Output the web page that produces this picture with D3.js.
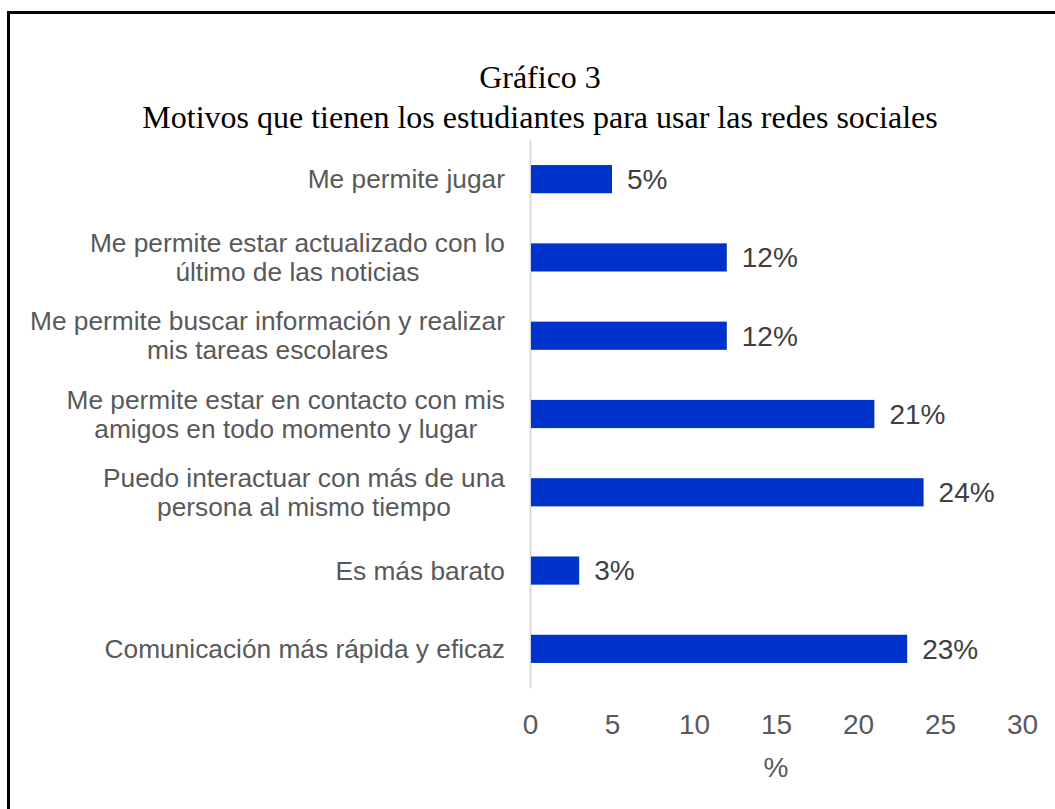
<!DOCTYPE html>
<html><head><meta charset="utf-8">
<script src="https://cdn.jsdelivr.net/npm/d3@7"></script>
<style>body{margin:0;background:#fff}svg{display:block}</style>
</head><body><svg id="c" width="1055" height="809"></svg>
<script>
const titleLines = ["Gráfico 3", "Motivos que tienen los estudiantes para usar las redes sociales"];
const categories = [
  "Me permite jugar",
  "Me permite estar actualizado con lo\núltimo de las noticias",
  "Me permite buscar información y realizar\nmis tareas escolares",
  "Me permite estar en contacto con mis\namigos en todo momento y lugar",
  "Puedo interactuar con más de una\npersona al mismo tiempo",
  "Es más barato",
  "Comunicación más rápida y eficaz"
];
const values = [5, 12, 12, 21, 24, 3, 23];
const valueLabels = ["5%", "12%", "12%", "21%", "24%", "3%", "23%"];
const xTicks = [0, 5, 10, 15, 20, 25, 30];
const xTitle = "%";

const svg = d3.select("#c");
svg.append("rect").attr("width",1055).attr("height",809).attr("fill","#fff");
svg.append("rect").attr("x",8.5).attr("y",12.5).attr("width",1100).attr("height",900)
  .attr("fill","none").attr("stroke","#000").attr("stroke-width",3);

const sans = "'Liberation Sans', Arial, sans-serif";
const serif = "'Liberation Serif', 'Times New Roman', serif";

svg.selectAll("text.title").data(titleLines).join("text")
  .attr("class","title")
  .attr("x",540).attr("y",(d,i)=>77+i*40).attr("dy","0.35em")
  .attr("text-anchor","middle").attr("font-family",serif).attr("font-size",32).attr("fill","#000")
  .text(d=>d);

const x = d3.scaleLinear().domain([0,30]).range([530,1022]);
const y = d3.scaleBand().domain(categories).range([140,688]).paddingInner(0.64).paddingOuter(0.32);

// vertical axis line
const yAxis = d3.axisLeft(y).tickSize(0).tickSizeOuter(0).tickFormat("");
const gy = svg.append("g").attr("transform","translate(530,0)").call(yAxis);
gy.select(".domain").attr("stroke","#d9d9d9").attr("stroke-width",2);

// bars
svg.selectAll("rect.bar").data(values).join("rect")
  .attr("class","bar")
  .attr("x",x(0)+1).attr("y",(d,i)=>y(categories[i]))
  .attr("width",d=>x(d)-x(0)-1).attr("height",y.bandwidth())
  .attr("fill","#0033cc");

// value labels
svg.selectAll("text.val").data(values).join("text")
  .attr("class","val")
  .attr("x",d=>x(d)+15).attr("y",(d,i)=>y(categories[i])+y.bandwidth()/2).attr("dy","0.35em")
  .attr("font-family",sans).attr("font-size",28).attr("fill","#404040")
  .text((d,i)=>valueLabels[i]);

// category labels
const catG = svg.append("g");
categories.forEach((c,i)=>{
  const lines = c.split("\n");
  const cy = y(c)+y.bandwidth()/2;
  const lh = 29;
  const t = catG.append("text").attr("font-family",sans).attr("font-size",26.3).attr("fill","#595959")
    .attr("text-anchor","middle");
  lines.forEach((l,j)=>{
    t.append("tspan").attr("y",cy+(j-(lines.length-1)/2)*lh).attr("dy","0.35em").text(l);
  });
  let maxW = 0;
  t.selectAll("tspan").each(function(){ maxW = Math.max(maxW, this.getComputedTextLength()); });
  t.selectAll("tspan").attr("x",505-maxW/2);
});

// x axis
const xAxis = d3.axisBottom(x).tickValues(xTicks).tickSize(0).tickPadding(0).tickFormat(d3.format("d"));
const gx = svg.append("g").attr("transform","translate(0,724)").call(xAxis);
gx.select(".domain").remove();
gx.selectAll("text").attr("font-family",sans).attr("font-size",28).attr("fill","#595959").attr("dy","0.35em").attr("y",0);

svg.append("text").attr("x",x(15)).attr("y",767).attr("dy","0.35em").attr("text-anchor","middle")
  .attr("font-family",sans).attr("font-size",28).attr("fill","#595959").text(xTitle);
</script></body></html>
